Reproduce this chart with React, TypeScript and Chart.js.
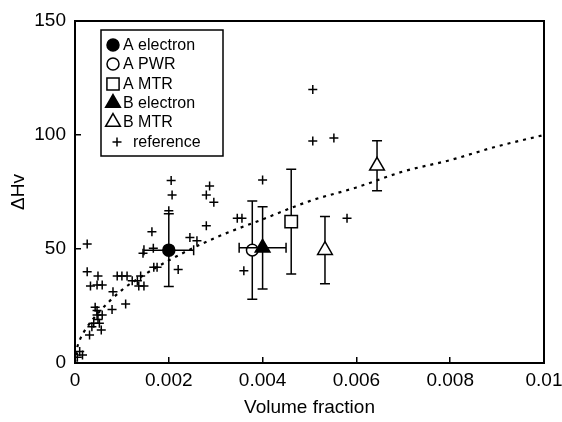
import React, { useEffect, useRef } from 'react';
import { Chart, registerables } from 'chart.js';

Chart.register(...registerables);

// ---- tick labels ----
const xTickLabels = ['0', '0.002', '0.004', '0.006', '0.008', '0.01'];
const yTickLabels = ['0', '50', '100', '150'];

// ---- measured series ----
const aElectronX = [0.002];
const aElectronY = [49.5];
const aElectronYErr = [16];
const aElectronXErr = [0.00053];

const aPwrX = [0.00378];
const aPwrY = [49.5];
const aPwrYErr = [21.5];

const aMtrX = [0.00461];
const aMtrY = [62];
const aMtrYErr = [23];

const bElectronX = [0.004];
const bElectronY = [50.5];
const bElectronYErr = [18];
const bElectronXErr = [0.0005];

const bMtrX = [0.00533, 0.00644];
const bMtrY = [49.5, 86.5];
const bMtrYErr = [14.7, 11];

// ---- reference points ----
const refX = [
  0.00005, 0.0001, 0.00016, 0.00031, 0.00036, 0.0004, 0.00052, 0.00056, 0.00049, 0.00047,
  0.00058, 0.00043, 0.00047, 0.00079, 0.00108, 0.00081, 0.00033, 0.00047, 0.00058, 0.00026,
  0.00049, 0.0009, 0.001, 0.00111, 0.00122, 0.00133, 0.0014, 0.00136, 0.00147, 0.00168,
  0.00026, 0.00145, 0.00167, 0.00164, 0.00175, 0.0022, 0.002, 0.00207, 0.00205, 0.00245,
  0.0026, 0.0028, 0.00296, 0.0028, 0.00287, 0.00346, 0.00356, 0.0036, 0.004, 0.0058,
  0.00507, 0.00552, 0.00507,
];
const refY = [
  2.5, 5, 3.5, 12.3, 15.9, 17.4, 17.4, 14.5, 19.1, 21,
  21, 24.4, 23, 23.5, 25.9, 31.3, 33.8, 34.2, 34.2, 40,
  38.2, 38.2, 38.2, 38.2, 36.1, 36.1, 38.2, 33.8, 33.8, 42,
  52.2, 48.1, 50.3, 57.6, 42, 41, 66.8, 73.7, 80, 55,
  53.6, 60.2, 70.5, 73.7, 77.6, 63.5, 63.5, 40.5, 80.3, 63.5,
  97.4, 98.7, 120,
];

// ---- dotted fit curve ----
const fitX = [0, 0.00005, 0.0001, 0.0002, 0.0005, 0.001, 0.0015, 0.002, 0.003, 0.004, 0.005, 0.006, 0.007, 0.008, 0.009, 0.01];
const fitY = [0, 7, 10, 14, 22, 32, 39, 45, 55, 63, 71, 77, 84, 89, 95, 100];

const FONT = "'Liberation Sans', Arial, sans-serif";

const pts = (xs: number[], ys: number[]) => xs.map((x, i) => ({ x, y: ys[i] }));

function drawMarker(ctx: CanvasRenderingContext2D, style: string, x: number, y: number, r: number, fill: string) {
  ctx.beginPath();
  if (style === 'circle') {
    ctx.arc(x, y, r, 0, Math.PI * 2);
  } else if (style === 'rect') {
    const s = Math.SQRT1_2 * r;
    ctx.rect(x - s, y - s, 2 * s, 2 * s);
  } else if (style === 'triangle') {
    ctx.moveTo(x, y - r);
    ctx.lineTo(x + r * Math.sin((2 * Math.PI) / 3), y - r * Math.cos((2 * Math.PI) / 3));
    ctx.lineTo(x + r * Math.sin((4 * Math.PI) / 3), y - r * Math.cos((4 * Math.PI) / 3));
    ctx.closePath();
  } else if (style === 'cross') {
    ctx.moveTo(x - r, y);
    ctx.lineTo(x + r, y);
    ctx.moveTo(x, y - r);
    ctx.lineTo(x, y + r);
    ctx.stroke();
    return;
  }
  ctx.fillStyle = fill;
  ctx.fill();
  ctx.stroke();
}

const errorBarsPlugin = {
  id: 'errorBars',
  beforeDatasetDraw(chart: any, args: any) {
    const ds = chart.data.datasets[args.index];
    if (!ds.yErr && !ds.xErr) return;
    const { ctx } = chart;
    const xs = chart.scales.x;
    const ys = chart.scales.y;
    ctx.save();
    ctx.strokeStyle = '#000';
    ctx.lineWidth = 1.5;
    const cap = 5;
    ds.data.forEach((p: any, i: number) => {
      const px = xs.getPixelForValue(p.x);
      const py = ys.getPixelForValue(p.y);
      ctx.beginPath();
      if (ds.yErr) {
        const e = ds.yErr[i];
        const t = ys.getPixelForValue(p.y + e);
        const b = ys.getPixelForValue(p.y - e);
        ctx.moveTo(px, t); ctx.lineTo(px, b);
        ctx.moveTo(px - cap, t); ctx.lineTo(px + cap, t);
        ctx.moveTo(px - cap, b); ctx.lineTo(px + cap, b);
      }
      if (ds.xErr) {
        const e = ds.xErr[i];
        const l = xs.getPixelForValue(p.x - e);
        const r = xs.getPixelForValue(p.x + e);
        ctx.moveTo(l, py); ctx.lineTo(r, py);
        ctx.moveTo(l, py - cap); ctx.lineTo(l, py + cap);
        ctx.moveTo(r, py - cap); ctx.lineTo(r, py + cap);
      }
      ctx.stroke();
    });
    ctx.restore();
  },
};

const framePlugin = {
  id: 'frameLegend',
  afterDraw(chart: any) {
    const { ctx, chartArea } = chart;
    ctx.save();
    ctx.strokeStyle = '#000';
    ctx.lineWidth = 2;
    ctx.strokeRect(chartArea.left, chartArea.top, chartArea.right - chartArea.left, chartArea.bottom - chartArea.top);

    // legend box
    const bx = chartArea.left + 26;
    const by = chartArea.top + 9;
    const bw = 122;
    const bh = 126;
    ctx.fillStyle = '#fff';
    ctx.fillRect(bx, by, bw, bh);
    ctx.lineWidth = 1.5;
    ctx.strokeRect(bx, by, bw, bh);

    ctx.font = `16px ${FONT}`;
    ctx.textBaseline = 'middle';
    ctx.textAlign = 'left';
    const rowY = [15, 34, 54, 73, 92, 112];
    chart.data.datasets.forEach((ds: any) => {
      if (!ds.legendStyle) return;
      const y = by + rowY[ds.legendRow];
      const isRef = ds.legendStyle === 'cross';
      const mx = bx + (isRef ? 16 : 12);
      const tx = bx + (isRef ? 32 : 22);
      ctx.strokeStyle = '#000';
      ctx.lineWidth = 1.5;
      drawMarker(ctx, ds.legendStyle, mx, y, ds.legendRadius, ds.backgroundColor);
      ctx.fillStyle = '#000';
      ctx.fillText(ds.label, tx, y + 1);
    });
    ctx.restore();
  },
};

export default function App() {
  const ref = useRef<HTMLCanvasElement>(null);

  useEffect(() => {
    if (!ref.current) return;
    const chart = new Chart(ref.current, {
      type: 'scatter',
      data: {
        datasets: [
          {
            label: 'A electron',
            data: pts(aElectronX, aElectronY),
            pointStyle: 'circle',
            pointRadius: 6,
            backgroundColor: '#000',
            borderColor: '#000',
            borderWidth: 1.5,
            order: 0,
            yErr: aElectronYErr,
            xErr: aElectronXErr,
            legendStyle: 'circle',
            legendRadius: 6,
            legendRow: 0,
          } as any,
          {
            label: 'A PWR',
            data: pts(aPwrX, aPwrY),
            pointStyle: 'circle',
            pointRadius: 5.8,
            backgroundColor: '#fff',
            borderColor: '#000',
            borderWidth: 1.5,
            order: 1,
            yErr: aPwrYErr,
            legendStyle: 'circle',
            legendRadius: 6,
            legendRow: 1,
          } as any,
          {
            label: 'A MTR',
            data: pts(aMtrX, aMtrY),
            pointStyle: 'rect',
            pointRadius: 8.8,
            backgroundColor: '#fff',
            borderColor: '#000',
            borderWidth: 1.5,
            order: 0,
            yErr: aMtrYErr,
            legendStyle: 'rect',
            legendRadius: 8.6,
            legendRow: 2,
          } as any,
          {
            label: 'B electron',
            data: pts(bElectronX, bElectronY),
            pointStyle: 'triangle',
            pointRadius: 8.5,
            backgroundColor: '#000',
            borderColor: '#000',
            borderWidth: 1.5,
            order: 0,
            yErr: bElectronYErr,
            xErr: bElectronXErr,
            legendStyle: 'triangle',
            legendRadius: 8.5,
            legendRow: 3,
          } as any,
          {
            label: 'B MTR',
            data: pts(bMtrX, bMtrY),
            pointStyle: 'triangle',
            pointRadius: 8.5,
            backgroundColor: '#fff',
            borderColor: '#000',
            borderWidth: 1.5,
            order: 0,
            yErr: bMtrYErr,
            legendStyle: 'triangle',
            legendRadius: 8.5,
            legendRow: 4,
          } as any,
          {
            label: 'reference',
            data: pts(refX, refY),
            pointStyle: 'cross',
            pointRadius: 4.5,
            backgroundColor: '#000',
            borderColor: '#000',
            borderWidth: 1.5,
            order: 2,
            legendStyle: 'cross',
            legendRadius: 4.5,
            legendRow: 5,
          } as any,
          {
            label: 'fit',
            type: 'line',
            data: pts(fitX, fitY),
            showLine: true,
            pointRadius: 0,
            borderColor: '#000',
            borderWidth: 2.2,
            borderDash: [3, 5],
            cubicInterpolationMode: 'monotone',
            fill: false,
            order: 3,
          } as any,
        ],
      },
      options: {
        animation: false,
        responsive: false,
        layout: { padding: { left: 0, right: 18, top: 21, bottom: 0 } },
        plugins: {
          legend: { display: false },
          tooltip: { enabled: false },
        },
        scales: {
          x: {
            type: 'linear',
            min: 0,
            max: 0.01,
            afterFit: (s: any) => { s.height = 59; s.paddingLeft = 0; s.paddingRight = 0; },
            ticks: {
              stepSize: 0.002,
              color: '#000',
              padding: 12,
              font: { family: FONT, size: 19 },
              maxRotation: 0,
              callback: (_v: any, i: number) => xTickLabels[i],
            },
            grid: { drawOnChartArea: false, drawTicks: true, tickLength: -6, color: '#000', lineWidth: 1.5 },
            border: { display: true, color: '#000', width: 2 },
            title: { display: true, text: 'Volume fraction', color: '#000', font: { family: FONT, size: 19 }, padding: { top: 0, bottom: 3 } },
          },
          y: {
            type: 'linear',
            min: 0,
            max: 150,
            afterFit: (s: any) => { s.width = 75; s.paddingTop = 0; s.paddingBottom = 0; },
            ticks: {
              stepSize: 50,
              color: '#000',
              padding: 15,
              font: { family: FONT, size: 19 },
              callback: (_v: any, i: number) => yTickLabels[i],
            },
            grid: { drawOnChartArea: false, drawTicks: true, tickLength: -6, color: '#000', lineWidth: 1.5 },
            border: { display: true, color: '#000', width: 2 },
            title: { display: true, text: 'ΔHv', color: '#000', font: { family: FONT, size: 19 }, padding: { top: 7, bottom: 0 } },
          },
        },
      } as any,
      plugins: [errorBarsPlugin, framePlugin],
    });
    return () => chart.destroy();
  }, []);

  return (
    <div style={{ position: 'absolute', left: 0, top: 0, width: 562, height: 422, background: '#fff' }}>
      <canvas ref={ref} width={562} height={422} />
    </div>
  );
}
